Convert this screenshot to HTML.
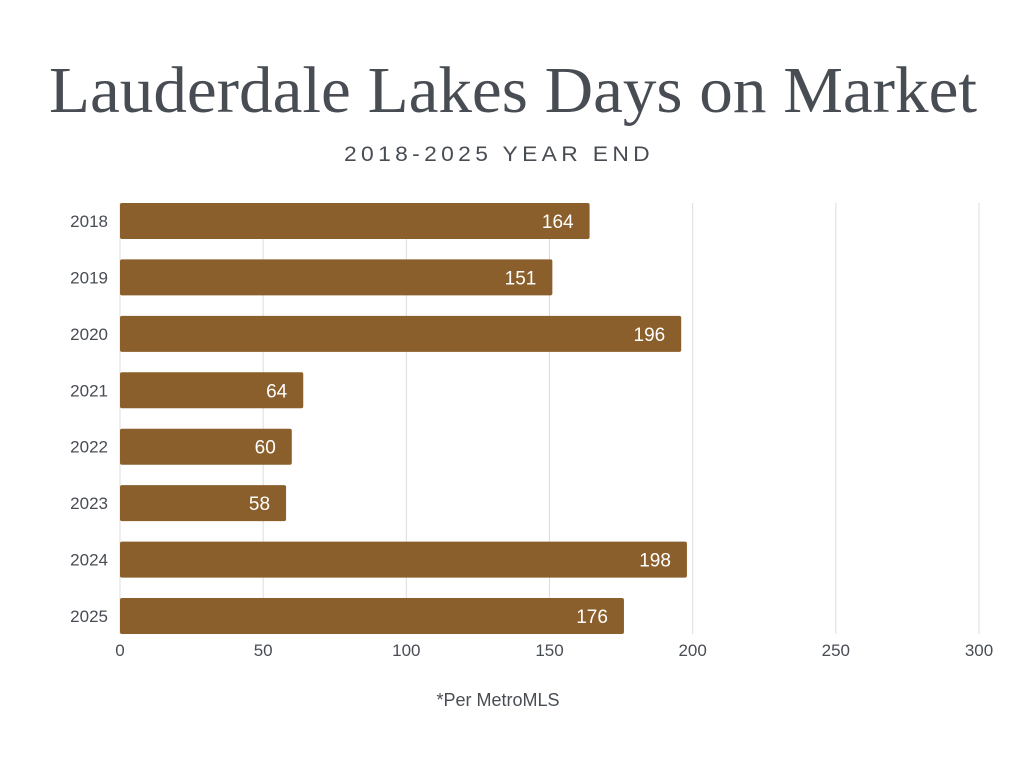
<!DOCTYPE html>
<html><head><meta charset="utf-8"><style>
html,body{margin:0;padding:0;background:#fff;}
svg{display:block;}
</style></head><body>
<svg id="chart" width="1024" height="768" xmlns="http://www.w3.org/2000/svg">
<text x="513" y="112" text-anchor="middle" font-family="Liberation Serif, serif" font-size="66" fill="#484d54" textLength="928" lengthAdjust="spacingAndGlyphs">Lauderdale Lakes Days on Market</text>
<text x="499" y="161" text-anchor="middle" font-family="Liberation Sans, sans-serif" font-size="21" fill="#484d54" letter-spacing="4" textLength="310" lengthAdjust="spacingAndGlyphs">2018-2025 YEAR END</text>
<g id="grid"></g>
<g id="bars"></g>
<text x="498" y="706" text-anchor="middle" font-family="Liberation Sans, sans-serif" font-size="18" fill="#484d54">*Per MetroMLS</text>
</svg>
<script>
const categories = ["2018","2019","2020","2021","2022","2023","2024","2025"];
const values = [164,151,196,64,60,58,198,176];
const ticks = [0,50,100,150,200,250,300];
const NS="http://www.w3.org/2000/svg";
const x0=120, x1=979, xmax=300;
const xs=v=>x0+(v/xmax)*(x1-x0);
const yTop=203, step=56.43, bh=36;
const grid=document.getElementById('grid'), bars=document.getElementById('bars');
function mk(tag,attrs,parent){const e=document.createElementNS(NS,tag);for(const k in attrs)e.setAttribute(k,attrs[k]);parent.appendChild(e);return e;}
ticks.forEach(t=>{
  const l=mk('line',{x1:xs(t),x2:xs(t),y1:203,y2:634,stroke:'#dcdcdc','stroke-width':1},grid);
  
  
  const tx=mk('text',{x:xs(t),y:656,'text-anchor':'middle','font-family':'Liberation Sans, sans-serif','font-size':17,fill:'#484d54'},grid);
  tx.textContent=t;
  
  
});
categories.forEach((c,i)=>{
  const y=yTop+i*step;
  const r=mk('rect',{x:x0,y:y,width:xs(values[i])-x0,height:bh,rx:2,fill:'#8a5f2b'},bars);
  
  
  const lab=mk('text',{x:108,y:y+bh/2+6,'text-anchor':'end','font-family':'Liberation Sans, sans-serif','font-size':17,fill:'#484d54'},bars);
  lab.textContent=c;
  
  
  const v=mk('text',{x:xs(values[i])-16,y:y+bh/2+7,'text-anchor':'end','font-family':'Liberation Sans, sans-serif','font-size':19,fill:'#ffffff'},bars);
  v.textContent=values[i];
  
  
});
</script>
</body></html>
